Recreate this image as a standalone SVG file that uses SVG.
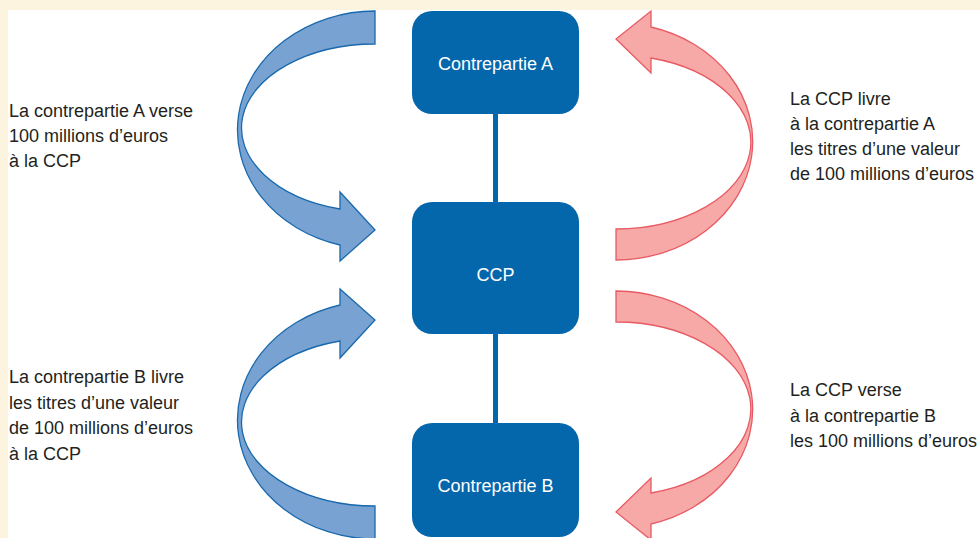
<svg xmlns="http://www.w3.org/2000/svg" width="980" height="538" viewBox="0 0 980 538">
<style>
.bg{fill:#fdf4df}
.panel{fill:#ffffff}
.node rect{fill:#0567ab}
.node text{fill:#ffffff;font-family:"Liberation Sans",Arial,sans-serif;font-size:18px;text-anchor:middle}
.link{stroke:#0567ab;stroke-width:5;fill:none}
.blue{fill:#77a2d1;stroke:#1a69ad;stroke-width:1.3;stroke-linejoin:miter}
.pink{fill:#f6a9a7;stroke:#e85a63;stroke-width:1.3;stroke-linejoin:miter}
.lbl{fill:#231f20;font-family:"Liberation Sans",Arial,sans-serif;font-size:18px}
</style>
<rect class="bg" x="0" y="0" width="980" height="538"/>
<rect class="panel" x="8" y="10" width="972" height="528"/>

<g id="connectors">
  <line class="link" x1="495.5" y1="110" x2="495.5" y2="206"/>
  <line class="link" x1="495.5" y1="330" x2="495.5" y2="427"/>
</g>

<g id="node-contrepartie-a" class="node">
  <rect x="412" y="11" width="167" height="103" rx="20" ry="20"/>
  <text x="495.5" y="70">Contrepartie A</text>
</g>
<g id="node-ccp" class="node">
  <rect x="412" y="202" width="167" height="132" rx="20" ry="20"/>
  <text x="495.5" y="281">CCP</text>
</g>
<g id="node-contrepartie-b" class="node">
  <rect x="412" y="423" width="167" height="114" rx="20" ry="20"/>
  <text x="495.5" y="492">Contrepartie B</text>
</g>

<g id="flows">
  <path id="arrow-a-to-ccp" class="blue" d="M375,11 A138,119 0 0 0 340,245 L340,261 L375,230 L340,192 L340,209 A134,84 0 0 1 375,44 Z"/>
  <path id="arrow-b-to-ccp" class="blue" d="M375,539 A138,119 0 0 1 340,305 L340,289 L375,320 L340,358 L340,341 A134,84 0 0 0 375,506 Z"/>
  <path id="arrow-ccp-to-a" class="pink" d="M616,260 A137,118.5 0 0 0 651,27 L651,11 L616,39 L651,73 L651,58 A135,87 0 0 1 616,229 Z"/>
  <path id="arrow-ccp-to-b" class="pink" d="M616,291 A137,118.5 0 0 1 651,524 L651,540 L616,512 L651,478 L651,493 A135,87 0 0 0 616,322 Z"/>
</g>

<g id="labels">
  <text class="lbl" x="9" y="116.5">La contrepartie A verse</text>
  <text class="lbl" x="9" y="141.5">100 millions d’euros</text>
  <text class="lbl" x="9" y="166.5">à la CCP</text>

  <text class="lbl" x="790" y="104.5">La CCP livre</text>
  <text class="lbl" x="790" y="129.5">à la contrepartie A</text>
  <text class="lbl" x="790" y="154.5">les titres d’une valeur</text>
  <text class="lbl" x="790" y="179.5">de 100 millions d’euros</text>

  <text class="lbl" x="9" y="383">La contrepartie B livre</text>
  <text class="lbl" x="9" y="408.5">les titres d’une valeur</text>
  <text class="lbl" x="9" y="434">de 100 millions d’euros</text>
  <text class="lbl" x="9" y="459.5">à la CCP</text>

  <text class="lbl" x="790" y="396">La CCP verse</text>
  <text class="lbl" x="790" y="421.5">à la contrepartie B</text>
  <text class="lbl" x="790" y="447">les 100 millions d’euros</text>
</g>
</svg>
